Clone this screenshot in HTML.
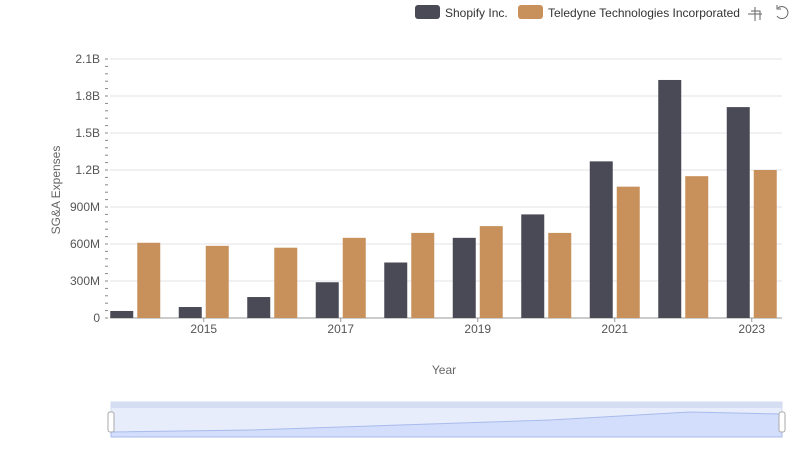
<!DOCTYPE html>
<html><head><meta charset="utf-8"><style>
body{margin:0;background:#fff;font-family:"Liberation Sans",sans-serif}
svg text{font-family:"Liberation Sans",sans-serif}
</style></head><body>
<svg id="c" width="800" height="461">
<g id="grid"></g><g id="bars"></g><g id="axes"></g>
<g>
<rect x="415" y="5" width="25" height="14" rx="3" fill="#4a4a56"/>
<text x="445" y="17" font-size="12" fill="#333">Shopify Inc.</text>
<rect x="518" y="5" width="25" height="14" rx="3" fill="#c8915c"/>
<text x="548" y="17" font-size="12" fill="#333">Teledyne Technologies Incorporated</text>
</g>
<g stroke="#666" fill="none" stroke-width="1">
<path d="M748 14h14M755 7v14M751 11h9v9"/>
<path d="M778 8a6 6 0 1 1-1 8M777 5v4h4"/>
</g>
<text transform="translate(60,190) rotate(-90)" text-anchor="middle" font-size="12" fill="#666">SG&amp;A Expenses</text>
<text x="444" y="374" text-anchor="middle" font-size="12" fill="#666">Year</text>
<g>
<rect x="111" y="402" width="671" height="35" fill="#e8edfb" stroke="#d2dbee"/>
<rect x="111" y="402" width="671" height="6" fill="#d5ddf2"/>
<path d="M111 432 L250 430 L400 425 L550 420 L690 412 L782 414 L782 437 L111 437Z" fill="#d3defc" stroke="#a9bbed"/>
<rect x="108" y="412" width="6" height="20" rx="2" fill="#fff" stroke="#aaa"/>
<rect x="779" y="412" width="6" height="20" rx="2" fill="#fff" stroke="#aaa"/>
</g>
</svg>
<script>
const years=[2014,2015,2016,2017,2018,2019,2020,2021,2022,2023];
const shopify=[0.057,0.089,0.17,0.29,0.45,0.65,0.84,1.27,1.93,1.71];
const teledyne=[0.61,0.585,0.57,0.65,0.69,0.745,0.69,1.065,1.15,1.2];
const yTicks=[0,0.3,0.6,0.9,1.2,1.5,1.8,2.1];
const yLabels=["0","300M","600M","900M","1.2B","1.5B","1.8B","2.1B"];
const xLabelYears=[2015,2017,2019,2021,2023];
const NS="http://www.w3.org/2000/svg";
const y0=318,yTop=59,yMax=2.1,x0=101,band=68.5;
const ys=v=>y0-(v/yMax)*(y0-yTop);
const xc=i=>x0+band*(i+0.5);
function mk(t,a,p){const e=document.createElementNS(NS,t);for(const k in a)e.setAttribute(k,a[k]);p.appendChild(e);return e;}
const g=document.getElementById('grid'),b=document.getElementById('bars'),ax=document.getElementById('axes');
yTicks.forEach((v,i)=>{
 const l=mk('line',{x1:110,x2:782,y1:ys(v),y2:ys(v),stroke:i?'#e3e3ea':'#999'},g);
 
 
 const t=mk('text',{x:100,y:ys(v)+4,'text-anchor':'end','font-size':12,fill:'#555'},ax);
 t.textContent=yLabels[i];
 
 
});
for(let v=0;v<=yMax+1e-9;v+=0.06){
 const m=mk('line',{x1:105,x2:108,y1:ys(v),y2:ys(v),stroke:'#888'},ax);
 
 
}
years.forEach((yr,i)=>{
 const c=xc(i);
 const r1=mk('rect',{x:c-25,y:ys(shopify[i]),width:23,height:y0-ys(shopify[i]),fill:'#4a4a56'},b);
 
 
 const r2=mk('rect',{x:c+2,y:ys(teledyne[i]),width:23,height:y0-ys(teledyne[i]),fill:'#c8915c'},b);
 
 
 if(xLabelYears.includes(yr)){
  const t=mk('text',{x:c,y:333,'text-anchor':'middle','font-size':12,fill:'#555'},ax);
  t.textContent=yr;
  
  
  const tk=mk('line',{x1:c,x2:c,y1:318,y2:322,stroke:'#999'},ax);
  
  
 }
});
</script>
</body></html>
